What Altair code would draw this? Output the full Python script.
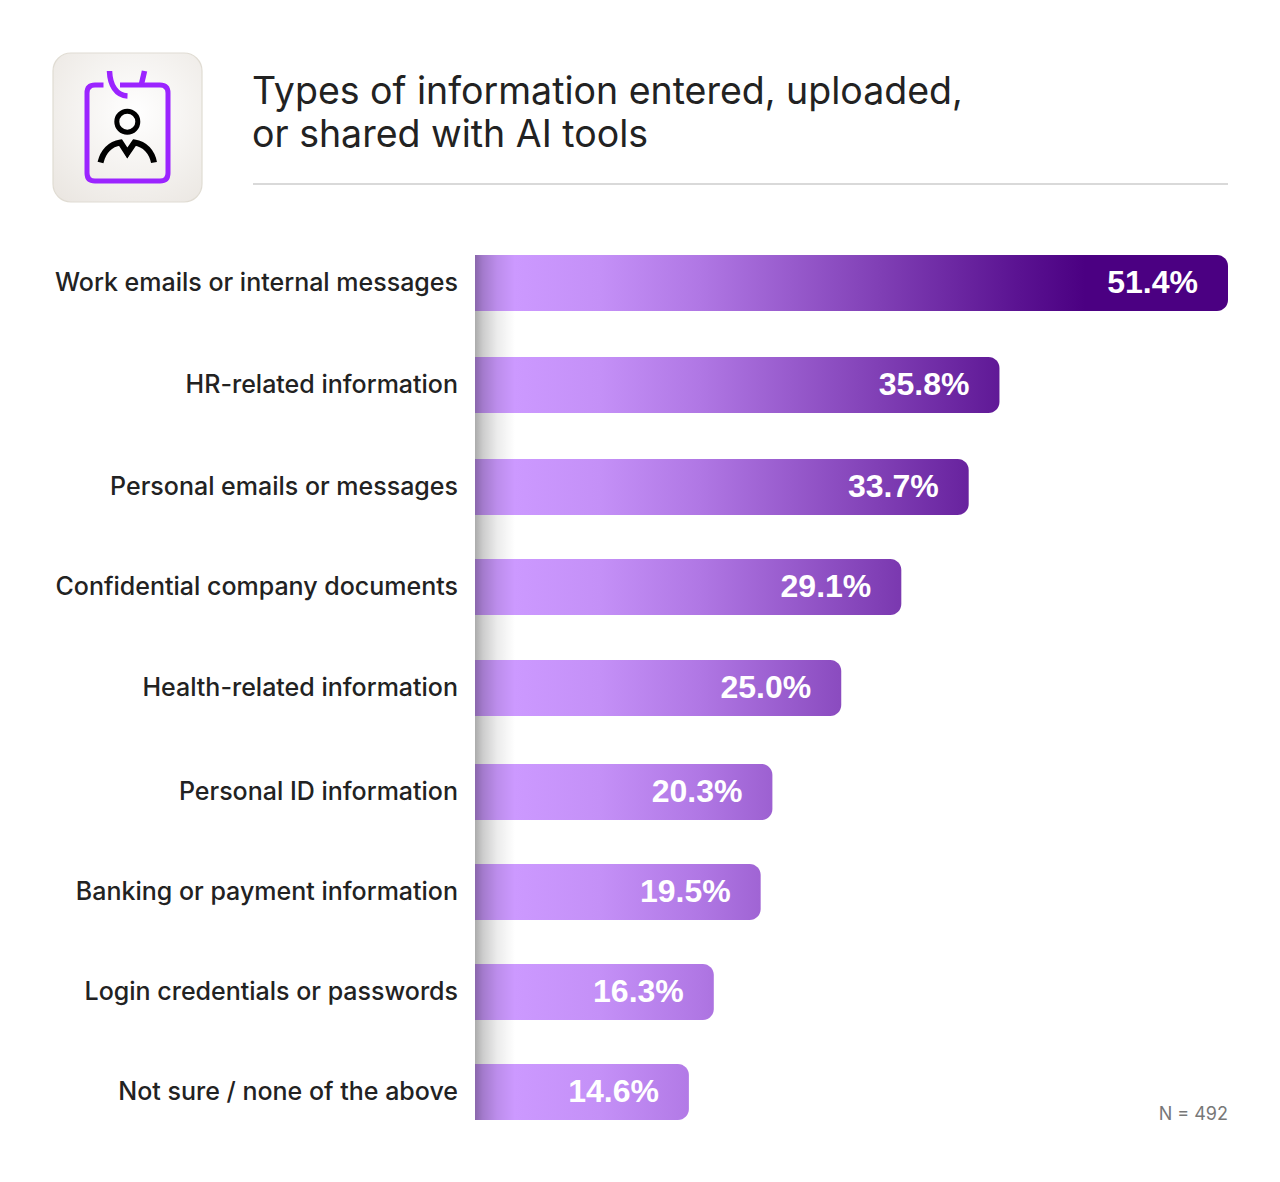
import altair as alt
import pandas as pd

CATEGORIES = [
    "Work emails or internal messages", "HR-related information",
    "Personal emails or messages", "Confidential company documents",
    "Health-related information", "Personal ID information",
    "Banking or payment information", "Login credentials or passwords",
    "Not sure / none of the above",
]
VALUES = [51.4, 35.8, 33.7, 29.1, 25.0, 20.3, 19.5, 16.3, 14.6]
LABELS = ["51.4%", "35.8%", "33.7%", "29.1%", "25.0%", "20.3%", "19.5%", "16.3%", "14.6%"]
TITLE_LINES = ["Types of information entered, uploaded,", "or shared with AI tools"]
NOTE = "N = 492"

W, H = 1264, 1166
FONT = "Inter"
ROW_PX = [275, 377, 479, 579, 680, 784, 884, 984, 1084]
MAXV = max(VALUES)

df = pd.DataFrame({"cat": CATEGORIES, "v": VALUES, "label": LABELS, "row": list(range(len(VALUES)))})
xs = alt.Scale(domain=[0, MAXV], range=[467, 1220], padding=0, nice=False, zero=False)
ys = alt.Scale(domain=list(range(len(VALUES))), range=ROW_PX, padding=0, nice=False, zero=False)
X = alt.X("v:Q", scale=xs, axis=None)
Y = alt.Y("row:Q", scale=ys, axis=None)

layers = []

# Icon tile
layers.append(
    alt.Chart(df.head(1)).mark_rect(
        cornerRadius=18, stroke="#e0dcd3", strokeWidth=1.2,
        fill=alt.RadialGradient(gradient="radial", x1=0.55, y1=0.4, x2=0.55, y2=0.4, r1=0, r2=0.75,
                                stops=[alt.GradientStop(offset=0, color="#ffffff"),
                                       alt.GradientStop(offset=1, color="#ebe7e2")]),
    ).encode(x=alt.value(45), x2=alt.value(194), y=alt.value(45), y2=alt.value(194))
)

def glyph(path, color, sw):
    return alt.Chart(df.head(1)).mark_point(
        shape=path, size=4, filled=False, stroke=color, strokeWidth=sw, opacity=1,
        strokeCap="butt",
    ).encode(x=alt.value(0), y=alt.value(0))

PURPLE = "#9b24ff"
layers += [
    glyph("M95.5 77 L87 77 Q79 77 79 85 L79 165 Q79 173 87 173 L152 173 Q160 173 160 165 "
          "L160 85 Q160 77 152 77 L112 77", PURPLE, 5),
    glyph("M101.5 63 C102 77 108 87.5 119.5 88", PURPLE, 5.5),
    glyph("M136.5 63 L133.5 76", PURPLE, 5.5),
    glyph("M129.8 113.7 A10.5 10.5 0 1 1 108.8 113.7 A10.5 10.5 0 1 1 129.8 113.7", "#000000", 5),
    glyph("M92.5 154.5 C95 144 102 136 112.5 134.5 L119.3 145 L126.5 134.5 C137 136 144 144 146 154.5", "#000000", 6),
    glyph("M115.5 139 L119.3 146 L123 139", "#000000", 4),
]

# Title, rule
for i, line in enumerate(TITLE_LINES):
    layers.append(alt.Chart(df.head(1)).mark_text(
        text=line, font=FONT, fontSize=37.5, fontWeight=400, color="#222222", align="left", baseline="middle",
    ).encode(x=alt.value(244), y=alt.value(84.5 + 43 * i)))
layers.append(alt.Chart(df.head(1)).mark_rule(color="#d9d9d9", strokeWidth=2).encode(
    x=alt.value(245), x2=alt.value(1220), y=alt.value(176)))

# Bars: one shared gradient run, measured against the longest bar
for i, v in enumerate(VALUES):
    grad = alt.LinearGradient(
        gradient="linear", x1=0, y1=0, x2=MAXV / v, y2=0,
        stops=[alt.GradientStop(offset=0.0, color="#cc99ff"),
               alt.GradientStop(offset=0.053, color="#cc99ff"),
               alt.GradientStop(offset=0.166, color="#c490f7"),
               alt.GradientStop(offset=0.299, color="#b077e4"),
               alt.GradientStop(offset=0.538, color="#803fb5"),
               alt.GradientStop(offset=0.724, color="#5a1291"),
               alt.GradientStop(offset=0.81, color="#4b0082"),
               alt.GradientStop(offset=1.0, color="#4b0082")],
    )
    layers.append(alt.Chart(df.iloc[[i]]).mark_bar(
        orient="horizontal", size=56, fill=grad,
        cornerRadiusTopRight=11, cornerRadiusBottomRight=11,
    ).encode(x=alt.X("v:Q", scale=xs, axis=None), x2=alt.datum(0), y=Y))

# Shadow along baseline
layers.append(alt.Chart(df.head(1)).mark_rect(
    fill=alt.LinearGradient(gradient="linear", x1=0, y1=0, x2=1, y2=0, stops=[
        alt.GradientStop(offset=0, color="rgba(0,0,0,0.33)"),
        alt.GradientStop(offset=0.2, color="rgba(0,0,0,0.2)"),
        alt.GradientStop(offset=0.55, color="rgba(0,0,0,0.08)"),
        alt.GradientStop(offset=1, color="rgba(0,0,0,0)")]),
).encode(x=alt.value(467), x2=alt.value(507), y=alt.value(247), y2=alt.value(1112)))

# Labels
base = alt.Chart(df)
layers.append(base.mark_text(font=FONT, fontSize=25, fontWeight=500, color="#222222",
                             align="right", baseline="middle").encode(
    x=alt.value(450), y=Y, text="cat:N"))
layers.append(base.mark_text(font="Liberation Sans", fontSize=32, fontWeight=700, color="#ffffff",
                             align="right", baseline="middle", dx=-30).encode(
    x=X, y=Y, text="label:N"))
layers.append(alt.Chart(df.head(1)).mark_text(
    text=NOTE, font=FONT, fontSize=18, color="#777777", align="right", baseline="middle",
).encode(x=alt.value(1220), y=alt.value(1107)))

chart = alt.layer(*layers).properties(
    width=W, height=H, padding=0, background="#ffffff"
).configure_view(stroke=None).resolve_scale(x="shared", y="shared")

chart.save("out.html", embed_options={"renderer": "svg", "actions": False})
